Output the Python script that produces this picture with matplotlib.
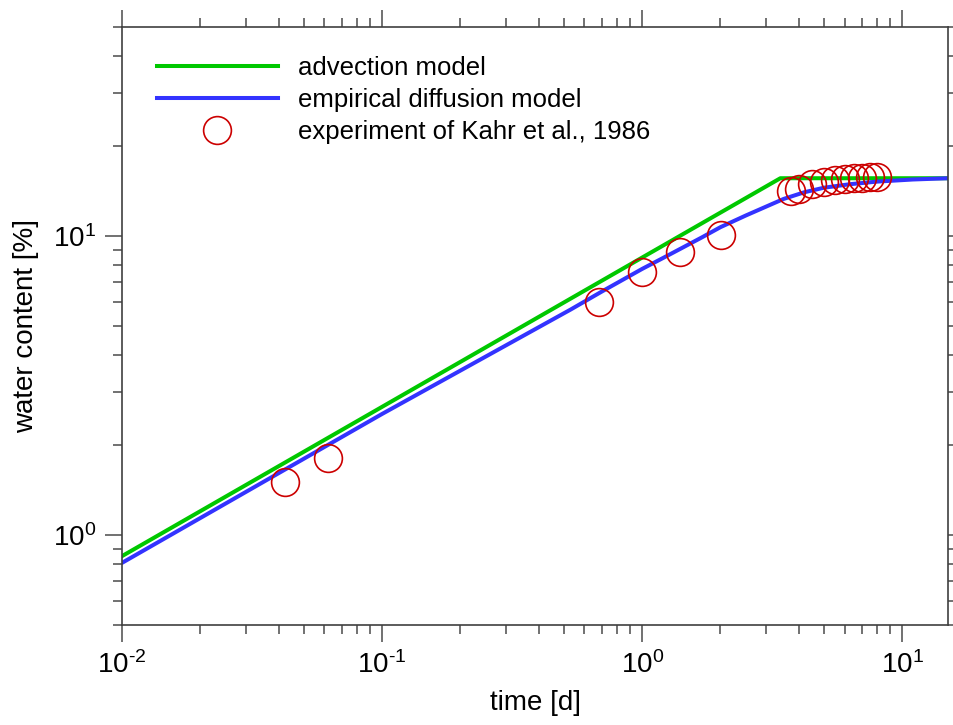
import matplotlib
matplotlib.use("Agg")
import matplotlib.pyplot as plt
import numpy as np
from matplotlib.ticker import LogLocator, NullFormatter, FuncFormatter

plt.rcParams['font.family'] = ['Liberation Sans', 'DejaVu Sans']
plt.rcParams['mathtext.fontset'] = 'custom'
plt.rcParams['mathtext.rm'] = 'Liberation Sans'

# advection model (sqrt(t) growth, then saturation)
adv_t = [0.01, 3.4, 15.0]
adv_w = [0.85, 15.6, 15.6]

# empirical diffusion model
dif_t = [0.01, 0.1, 0.53, 0.7, 1.0, 1.2, 1.4, 1.7, 2.0, 2.5, 3.1, 3.5, 4.2, 5.0, 6.3, 8.0, 11.0, 15.0]
dif_w = [0.807, 2.54, 5.67, 6.52, 7.76, 8.43, 9.05, 9.9, 10.7, 11.7, 12.7, 13.3, 14.0, 14.5, 14.9, 15.2, 15.45, 15.6]

# experiment of Kahr et al., 1986
exp_t = [0.0423, 0.062, 0.684, 1.0, 1.40, 2.01,
         3.75, 4.0, 4.5, 5.0, 5.5, 6.0, 6.5, 7.0, 7.5, 8.0]
exp_w = [1.50, 1.81, 6.03, 7.59, 8.84, 10.1,
         14.1, 14.4, 14.9, 15.2, 15.4, 15.5, 15.6, 15.6, 15.7, 15.7]


def dec_label(v, pos):
    e = int(round(np.log10(v)))
    # plain hyphen in the exponent like the original
    return r'$\mathregular{10^{%s}}$' % (str(e).replace('-', '\u2010'))


fig = plt.figure(figsize=(9.54, 7.25), dpi=100)
ax = fig.add_axes([0.1279, 0.1379, 0.8658, 0.8249])

ax.plot(adv_t, adv_w, color='#00c800', lw=2.9, label='advection model')
ax.plot(dif_t, dif_w, color='#3333ff', lw=2.9, label='empirical diffusion model')
ax.plot(exp_t, exp_w, 'o', ms=20, mfc='none', mec='#cc0000', mew=1.2,
        label='experiment of Kahr et al., 1986')

ax.set_xscale('log')
ax.set_yscale('log')
ax.set_xlim(0.01, 15)
ax.set_ylim(0.5, 50)

for axis in (ax.xaxis, ax.yaxis):
    axis.set_major_locator(LogLocator(base=10, numticks=10))
    axis.set_minor_locator(LogLocator(base=10, subs=range(2, 10), numticks=20))
    axis.set_major_formatter(FuncFormatter(dec_label))
    axis.set_minor_formatter(NullFormatter())

ax.tick_params(which='both', direction='out', top=True, right=True,
               labeltop=False, labelright=False, color='0.35', width=1.2,
               labelsize=20, pad=6)
ax.tick_params(which='major', length=12.5)
ax.tick_params(which='minor', length=6.5)
for s in ax.spines.values():
    s.set_color('0.25')
    s.set_linewidth(1.2)

ax.set_xlabel('time [d]', fontsize=20, labelpad=8)
ax.set_ylabel('water content [%]', fontsize=20, labelpad=10)

ax.legend(loc='upper left', bbox_to_anchor=(0.0424, 0.952), frameon=False,
          fontsize=18.5, handlelength=4.7, handletextpad=0.78,
          labelspacing=0.32, borderpad=0, borderaxespad=0, numpoints=1)

fig.savefig('out.png', dpi=100)
